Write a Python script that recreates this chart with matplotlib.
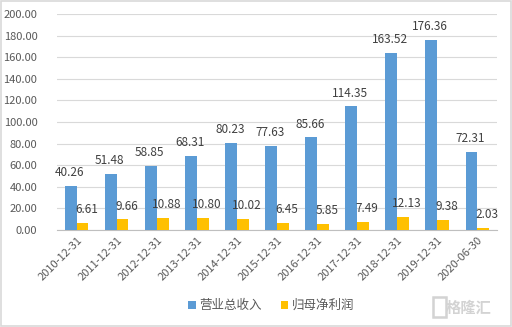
import numpy as np
import matplotlib.pyplot as plt
from matplotlib.patches import Rectangle

plt.rcParams['font.family'] = ['Noto Sans CJK SC', 'DejaVu Sans']

# Data (亿元)
dates = ["2010-12-31", "2011-12-31", "2012-12-31", "2013-12-31", "2014-12-31",
         "2015-12-31", "2016-12-31", "2017-12-31", "2018-12-31", "2019-12-31",
         "2020-06-30"]
revenue = [40.26, 51.48, 58.85, 68.31, 80.23, 77.63, 85.66, 114.35, 163.52, 176.36, 72.31]
net_profit = [6.61, 9.66, 10.88, 10.80, 10.02, 6.45, 5.85, 7.49, 12.13, 9.38, 2.03]
series_names = ["营业总收入", "归母净利润"]

blue = "#5B9BD5"
yellow = "#FFC000"
text_gray = "#595959"

fig = plt.figure(figsize=(5.12, 3.27), dpi=100)
ax = fig.add_axes([0.111, 0.297, 0.860, 0.660])

x = np.arange(len(dates))
w = 0.29
b1 = ax.bar(x - w / 2, revenue, w, color=blue, label=series_names[0], zorder=3)
b2 = ax.bar(x + w / 2, net_profit, w, color=yellow, label=series_names[1], zorder=3)

for bars, vals, dx in ((b1, revenue, -1), (b2, net_profit, 3)):
    for rect, v in zip(bars, vals):
        ax.annotate(f"{v:.2f}", (rect.get_x() + rect.get_width() / 2, v),
                    xytext=(dx, 5), textcoords="offset points",
                    ha="center", va="bottom", fontsize=8.5, color="#404040")

ax.set_xlim(-0.5, len(dates) - 0.5)
ax.set_ylim(0, 200)
ax.set_yticks(np.arange(0, 201, 20))
ax.set_yticklabels([f"{t:.2f}" for t in np.arange(0, 201, 20)], fontsize=8, color=text_gray)
ax.set_xticks(x)
ax.set_xticklabels(dates, rotation=45, ha="right", rotation_mode="anchor",
                   fontsize=8, color=text_gray)
ax.tick_params(axis="both", length=0, pad=4)
ax.tick_params(axis="y", pad=14)

ax.grid(axis="y", color="#D9D9D9", linewidth=0.8, zorder=0)
for s in ("top", "right", "left"):
    ax.spines[s].set_visible(False)
ax.spines["bottom"].set_color("#BFBFBF")
ax.spines["bottom"].set_linewidth(0.8)

leg = fig.legend(handles=[b1, b2], loc="center", bbox_to_anchor=(0.53, 0.065),
                 ncol=2, frameon=False, fontsize=9, handlelength=0.6,
                 handleheight=0.6, handletextpad=0.3, columnspacing=1.5)
for t in leg.get_texts():
    t.set_color(text_gray)

# watermark
fig.text(0.915, 0.06, "格隆汇", fontsize=11, color="#D3D3D3", weight="bold",
         ha="center", va="center")
fig.patches.append(Rectangle((0.845, 0.03), 0.026, 0.062, transform=fig.transFigure,
                             fill=False, edgecolor="#D3D3D3", linewidth=1.8))

# outer frame
fig.patches.append(Rectangle((0.001, 0.002), 0.997, 0.995, transform=fig.transFigure,
                             fill=False, edgecolor="#D9D9D9", linewidth=1.2))

fig.savefig("out.png", dpi=100)
